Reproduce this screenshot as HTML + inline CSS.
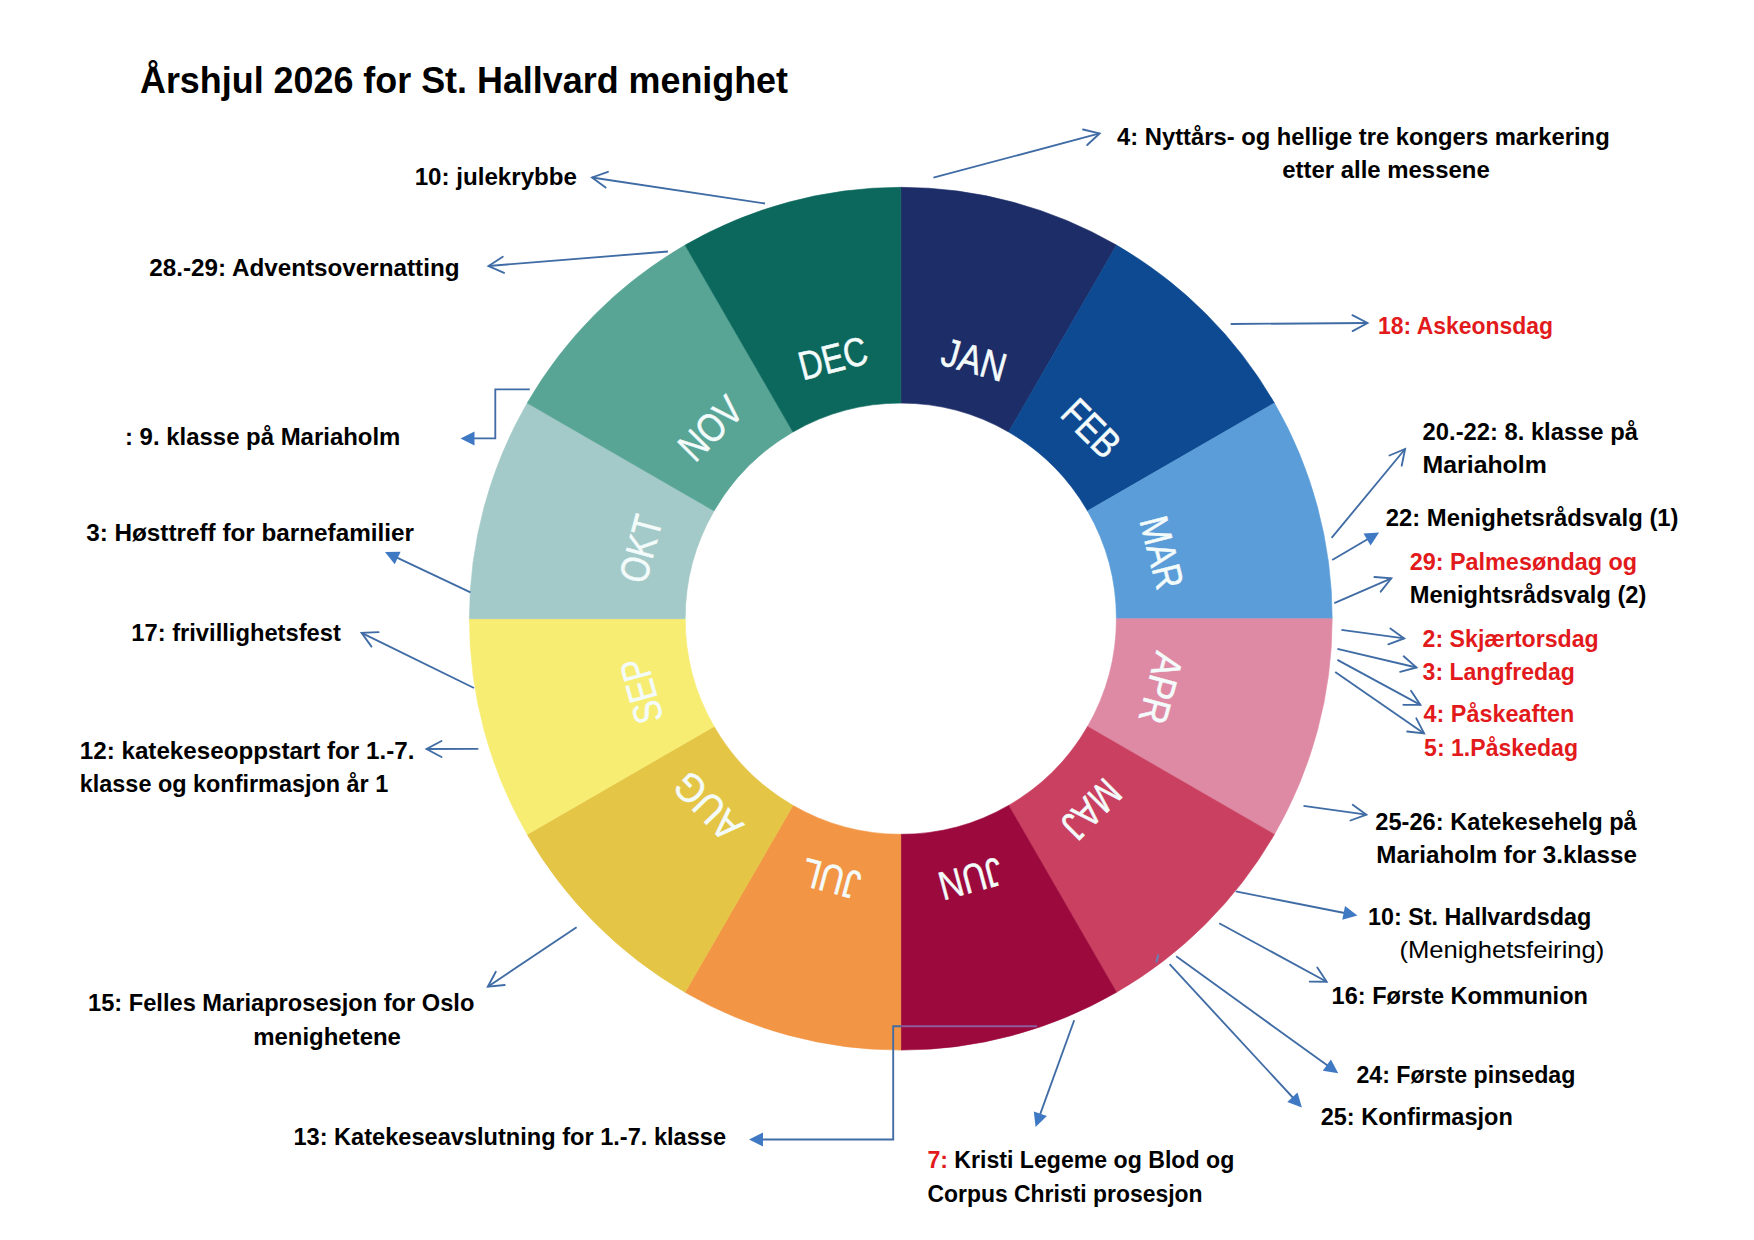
<!DOCTYPE html>
<html lang="no"><head><meta charset="utf-8"><title>Årshjul 2026 for St. Hallvard menighet</title>
<style>
html,body{margin:0;padding:0;background:#fff}
body{width:1754px;height:1240px;overflow:hidden}
svg{display:block}
text{font-family:"Liberation Sans",sans-serif;white-space:pre}
</style></head><body>
<svg width="1754" height="1240" viewBox="0 0 1754 1240">
<rect width="1754" height="1240" fill="#fff"/>
<path d="M900.80 187.30A431.4 431.4 0 0 1 1116.50 245.10L1008.60 431.98A215.6 215.6 0 0 0 900.80 403.10Z" fill="#1c2d68" stroke="#1c2d68" stroke-width="0.6"/>
<path d="M1116.50 245.10A431.4 431.4 0 0 1 1274.40 403.00L1087.52 510.90A215.6 215.6 0 0 0 1008.60 431.98Z" fill="#0d4a92" stroke="#0d4a92" stroke-width="0.6"/>
<path d="M1274.40 403.00A431.4 431.4 0 0 1 1332.20 618.70L1116.40 618.70A215.6 215.6 0 0 0 1087.52 510.90Z" fill="#5b9dd8" stroke="#5b9dd8" stroke-width="0.6"/>
<path d="M1332.20 618.70A431.4 431.4 0 0 1 1274.40 834.40L1087.52 726.50A215.6 215.6 0 0 0 1116.40 618.70Z" fill="#df8aa5" stroke="#df8aa5" stroke-width="0.6"/>
<path d="M1274.40 834.40A431.4 431.4 0 0 1 1116.50 992.30L1008.60 805.42A215.6 215.6 0 0 0 1087.52 726.50Z" fill="#c94060" stroke="#c94060" stroke-width="0.6"/>
<path d="M1116.50 992.30A431.4 431.4 0 0 1 900.80 1050.10L900.80 834.30A215.6 215.6 0 0 0 1008.60 805.42Z" fill="#9c093c" stroke="#9c093c" stroke-width="0.6"/>
<path d="M900.80 1050.10A431.4 431.4 0 0 1 685.10 992.30L793.00 805.42A215.6 215.6 0 0 0 900.80 834.30Z" fill="#f29544" stroke="#f29544" stroke-width="0.6"/>
<path d="M685.10 992.30A431.4 431.4 0 0 1 527.20 834.40L714.08 726.50A215.6 215.6 0 0 0 793.00 805.42Z" fill="#e5c546" stroke="#e5c546" stroke-width="0.6"/>
<path d="M527.20 834.40A431.4 431.4 0 0 1 469.40 618.70L685.20 618.70A215.6 215.6 0 0 0 714.08 726.50Z" fill="#f7ed72" stroke="#f7ed72" stroke-width="0.6"/>
<path d="M469.40 618.70A431.4 431.4 0 0 1 527.20 403.00L714.08 510.90A215.6 215.6 0 0 0 685.20 618.70Z" fill="#a3cac8" stroke="#a3cac8" stroke-width="0.6"/>
<path d="M527.20 403.00A431.4 431.4 0 0 1 685.10 245.10L793.00 431.98A215.6 215.6 0 0 0 714.08 510.90Z" fill="#58a596" stroke="#58a596" stroke-width="0.6"/>
<path d="M685.10 245.10A431.4 431.4 0 0 1 900.80 187.30L900.80 403.10A215.6 215.6 0 0 0 793.00 431.98Z" fill="#0c685d" stroke="#0c685d" stroke-width="0.6"/>
<text transform="translate(900.8 618.7) rotate(15.8) translate(0 -255.3) scale(0.855 1)" text-anchor="middle" font-size="40.2" fill="#f4fbfb" stroke="#f4fbfb" stroke-width="0.5" font-weight="400">JAN</text>
<text transform="translate(900.8 618.7) rotate(45) translate(0 -255.3) scale(0.82 1)" text-anchor="middle" font-size="40.2" fill="#f4fbfb" stroke="#f4fbfb" stroke-width="0.5" font-weight="400">FEB</text>
<text transform="translate(900.8 618.7) rotate(75.8) translate(0 -255.3) scale(0.82 1)" text-anchor="middle" font-size="40.2" fill="#f4fbfb" stroke="#f4fbfb" stroke-width="0.5" font-weight="400">MAR</text>
<text transform="translate(900.8 618.7) rotate(105) translate(0 -255.3) scale(0.87 1)" text-anchor="middle" font-size="40.2" fill="#f4fbfb" stroke="#f4fbfb" stroke-width="0.5" font-weight="400">APR</text>
<text transform="translate(900.8 618.7) rotate(135) translate(0 -255.3) scale(0.82 1)" text-anchor="middle" font-size="40.2" fill="#f4fbfb" stroke="#f4fbfb" stroke-width="0.5" font-weight="400">MAJ</text>
<text transform="translate(900.8 618.7) rotate(165) translate(0 -255.3) scale(0.82 1)" text-anchor="middle" font-size="40.2" fill="#f4fbfb" stroke="#f4fbfb" stroke-width="0.5" font-weight="400">JUN</text>
<text transform="translate(900.8 618.7) rotate(195) translate(0 -255.3) scale(0.82 1)" text-anchor="middle" font-size="40.2" fill="#f4fbfb" stroke="#f4fbfb" stroke-width="0.5" font-weight="400">JUL</text>
<text transform="translate(900.8 618.7) rotate(225.8) translate(0 -255.3) scale(0.9 1)" text-anchor="middle" font-size="40.2" fill="#f4fbfb" stroke="#f4fbfb" stroke-width="0.5" font-weight="400">AUG</text>
<text transform="translate(900.8 618.7) rotate(254.4) translate(0 -255.3) scale(0.82 1)" text-anchor="middle" font-size="40.2" fill="#f4fbfb" stroke="#f4fbfb" stroke-width="0.5" font-weight="400">SEP</text>
<text transform="translate(900.8 618.7) rotate(285) translate(0 -255.3) scale(0.82 1)" text-anchor="middle" font-size="40.2" fill="#f4fbfb" stroke="#f4fbfb" stroke-width="0.5" font-weight="400">OKT</text>
<text transform="translate(900.8 618.7) rotate(315) translate(0 -255.3) scale(0.82 1)" text-anchor="middle" font-size="40.2" fill="#f4fbfb" stroke="#f4fbfb" stroke-width="0.5" font-weight="400">NOV</text>
<text transform="translate(900.8 618.7) rotate(345.4) translate(0 -255.3) scale(0.82 1)" text-anchor="middle" font-size="40.2" fill="#f4fbfb" stroke="#f4fbfb" stroke-width="0.5" font-weight="400">DEC</text>
<text x="140.00" y="93.00" font-size="37" font-weight="700" fill="#000" textLength="648.03" lengthAdjust="spacingAndGlyphs">Årshjul 2026 for St. Hallvard menighet</text>
<text x="414.70" y="185.00" font-size="24" font-weight="700" fill="#000" textLength="162.31" lengthAdjust="spacingAndGlyphs">10: julekrybbe</text>
<text x="149.30" y="275.50" font-size="24" font-weight="700" fill="#000" textLength="310.19" lengthAdjust="spacingAndGlyphs">28.-29: Adventsovernatting</text>
<text x="125.00" y="445.00" font-size="24" font-weight="700" fill="#000" textLength="275.40" lengthAdjust="spacingAndGlyphs">: 9. klasse på Mariaholm</text>
<text x="86.20" y="541.00" font-size="24" font-weight="700" fill="#000" textLength="327.75" lengthAdjust="spacingAndGlyphs">3: Høsttreff for barnefamilier</text>
<text x="131.30" y="641.40" font-size="24" font-weight="700" fill="#000" textLength="209.53" lengthAdjust="spacingAndGlyphs">17: frivillighetsfest</text>
<text x="79.80" y="759.00" font-size="24" font-weight="700" fill="#000" textLength="334.58" lengthAdjust="spacingAndGlyphs">12: katekeseoppstart for 1.-7.</text>
<text x="79.80" y="792.00" font-size="24" font-weight="700" fill="#000" textLength="308.45" lengthAdjust="spacingAndGlyphs">klasse og konfirmasjon år 1</text>
<text x="88.00" y="1011.30" font-size="24" font-weight="700" fill="#000" textLength="386.37" lengthAdjust="spacingAndGlyphs">15: Felles Mariaprosesjon for Oslo</text>
<text x="253.20" y="1044.80" font-size="24" font-weight="700" fill="#000" textLength="147.76" lengthAdjust="spacingAndGlyphs">menighetene</text>
<text x="293.40" y="1145.00" font-size="24" font-weight="700" fill="#000" textLength="432.65" lengthAdjust="spacingAndGlyphs">13: Katekeseavslutning for 1.-7. klasse</text>
<text x="927.40" y="1201.60" font-size="24" font-weight="700" fill="#000" textLength="275.24" lengthAdjust="spacingAndGlyphs">Corpus Christi prosesjon</text>
<text x="1117.10" y="144.70" font-size="24" font-weight="700" fill="#000" textLength="492.56" lengthAdjust="spacingAndGlyphs">4: Nyttårs- og hellige tre kongers markering</text>
<text x="1282.20" y="177.50" font-size="24" font-weight="700" fill="#000" textLength="207.55" lengthAdjust="spacingAndGlyphs">etter alle messene</text>
<text x="1378.00" y="334.00" font-size="24" font-weight="700" fill="#e21a1c" textLength="175.04" lengthAdjust="spacingAndGlyphs">18: Askeonsdag</text>
<text x="1422.60" y="439.80" font-size="24" font-weight="700" fill="#000" textLength="215.32" lengthAdjust="spacingAndGlyphs">20.-22: 8. klasse på</text>
<text x="1422.60" y="472.60" font-size="24" font-weight="700" fill="#000" textLength="124.13" lengthAdjust="spacingAndGlyphs">Mariaholm</text>
<text x="1385.80" y="525.60" font-size="24" font-weight="700" fill="#000" textLength="292.74" lengthAdjust="spacingAndGlyphs">22: Menighetsrådsvalg (1)</text>
<text x="1409.70" y="570.10" font-size="24" font-weight="700" fill="#e21a1c" textLength="227.40" lengthAdjust="spacingAndGlyphs">29: Palmesøndag og</text>
<text x="1409.70" y="602.90" font-size="24" font-weight="700" fill="#000" textLength="236.65" lengthAdjust="spacingAndGlyphs">Menightsrådsvalg (2)</text>
<text x="1422.60" y="646.70" font-size="24" font-weight="700" fill="#e21a1c" textLength="176.16" lengthAdjust="spacingAndGlyphs">2: Skjærtorsdag</text>
<text x="1422.60" y="680.40" font-size="24" font-weight="700" fill="#e21a1c" textLength="152.35" lengthAdjust="spacingAndGlyphs">3: Langfredag</text>
<text x="1423.50" y="722.40" font-size="24" font-weight="700" fill="#e21a1c" textLength="150.75" lengthAdjust="spacingAndGlyphs">4: Påskeaften</text>
<text x="1424.10" y="756.10" font-size="24" font-weight="700" fill="#e21a1c" textLength="153.91" lengthAdjust="spacingAndGlyphs">5: 1.Påskedag</text>
<text x="1375.30" y="830.30" font-size="24" font-weight="700" fill="#000" textLength="261.42" lengthAdjust="spacingAndGlyphs">25-26: Katekesehelg på</text>
<text x="1376.30" y="862.70" font-size="24" font-weight="700" fill="#000" textLength="260.56" lengthAdjust="spacingAndGlyphs">Mariaholm for 3.klasse</text>
<text x="1368.00" y="924.80" font-size="24" font-weight="700" fill="#000" textLength="223.18" lengthAdjust="spacingAndGlyphs">10: St. Hallvardsdag</text>
<text x="1399.40" y="957.90" font-size="24" font-weight="400" fill="#000" textLength="204.97" lengthAdjust="spacingAndGlyphs">(Menighetsfeiring)</text>
<text x="1331.60" y="1003.90" font-size="24" font-weight="700" fill="#000" textLength="256.30" lengthAdjust="spacingAndGlyphs">16: Første Kommunion</text>
<text x="1356.40" y="1082.60" font-size="24" font-weight="700" fill="#000" textLength="218.95" lengthAdjust="spacingAndGlyphs">24: Første pinsedag</text>
<text x="1320.70" y="1124.60" font-size="24" font-weight="700" fill="#000" textLength="192.06" lengthAdjust="spacingAndGlyphs">25: Konfirmasjon</text>
<text x="927.40" y="1168.40" font-size="24" font-weight="700" fill="#000" textLength="306.88" lengthAdjust="spacingAndGlyphs"><tspan fill="#e21a1c">7:</tspan><tspan fill="#000"> Kristi Legeme og Blod og</tspan></text>
<line x1="933.4" y1="177.7" x2="1099.6" y2="133.4" stroke="#406ca5" stroke-width="1.85"/>
<polyline points="1087.2,145.0 1099.6,133.4 1083.0,129.5" fill="none" stroke="#406ca5" stroke-width="1.85" stroke-linecap="round" stroke-linejoin="miter"/>
<line x1="1230.7" y1="324" x2="1367.5" y2="323.0" stroke="#406ca5" stroke-width="1.85"/>
<polyline points="1352.6,331.1 1367.5,323.0 1352.4,315.1" fill="none" stroke="#406ca5" stroke-width="1.85" stroke-linecap="round" stroke-linejoin="miter"/>
<line x1="1331.6" y1="537.9" x2="1405.1" y2="449.0" stroke="#406ca5" stroke-width="1.85"/>
<polyline points="1401.7,465.7 1405.1,449.0 1389.4,455.5" fill="none" stroke="#406ca5" stroke-width="1.85" stroke-linecap="round" stroke-linejoin="miter"/>
<line x1="1332.2" y1="560" x2="1372.2" y2="536.5" stroke="#406ca5" stroke-width="1.85"/>
<polygon points="1370.6,545.5 1379.1,532.4 1363.5,533.5" fill="#4079c3"/>
<line x1="1334.3" y1="603.2" x2="1391.3" y2="578.4" stroke="#406ca5" stroke-width="1.85"/>
<polyline points="1380.7,591.7 1391.3,578.4 1374.4,577.0" fill="none" stroke="#406ca5" stroke-width="1.85" stroke-linecap="round" stroke-linejoin="miter"/>
<line x1="1341.4" y1="629.8" x2="1404.2" y2="638.4" stroke="#406ca5" stroke-width="1.85"/>
<polyline points="1388.3,644.3 1404.2,638.4 1390.4,628.4" fill="none" stroke="#406ca5" stroke-width="1.85" stroke-linecap="round" stroke-linejoin="miter"/>
<line x1="1337.4" y1="648.8" x2="1416.5" y2="667.5" stroke="#406ca5" stroke-width="1.85"/>
<polyline points="1400.1,671.8 1416.5,667.5 1403.7,656.3" fill="none" stroke="#406ca5" stroke-width="1.85" stroke-linecap="round" stroke-linejoin="miter"/>
<line x1="1337.4" y1="659.9" x2="1420.4" y2="704.9" stroke="#406ca5" stroke-width="1.85"/>
<polyline points="1403.4,704.8 1420.4,704.9 1411.0,690.7" fill="none" stroke="#406ca5" stroke-width="1.85" stroke-linecap="round" stroke-linejoin="miter"/>
<line x1="1335.2" y1="672.1" x2="1424.1" y2="733.4" stroke="#406ca5" stroke-width="1.85"/>
<polyline points="1407.2,731.5 1424.1,733.4 1416.3,718.3" fill="none" stroke="#406ca5" stroke-width="1.85" stroke-linecap="round" stroke-linejoin="miter"/>
<line x1="1303.5" y1="805.8" x2="1366.4" y2="814.7" stroke="#406ca5" stroke-width="1.85"/>
<polyline points="1350.4,820.5 1366.4,814.7 1352.7,804.7" fill="none" stroke="#406ca5" stroke-width="1.85" stroke-linecap="round" stroke-linejoin="miter"/>
<line x1="1235.7" y1="891.4" x2="1349.6" y2="914.0" stroke="#406ca5" stroke-width="1.85"/>
<polygon points="1342.3,919.7 1357.4,915.6 1345.0,906.0" fill="#4079c3"/>
<line x1="1219.2" y1="923.2" x2="1326.7" y2="981.7" stroke="#406ca5" stroke-width="1.85"/>
<polyline points="1309.7,981.6 1326.7,981.7 1317.3,967.5" fill="none" stroke="#406ca5" stroke-width="1.85" stroke-linecap="round" stroke-linejoin="miter"/>
<line x1="1176.2" y1="956.3" x2="1331.7" y2="1068.6" stroke="#406ca5" stroke-width="1.85"/>
<polygon points="1322.8,1070.8 1338.2,1073.3 1330.9,1059.4" fill="#4079c3"/>
<line x1="1169.6" y1="964.2" x2="1296.5" y2="1101.5" stroke="#406ca5" stroke-width="1.85"/>
<polygon points="1287.3,1101.9 1301.9,1107.4 1297.5,1092.4" fill="#4079c3"/>
<line x1="1074.2" y1="1020.2" x2="1038.3" y2="1119.4" stroke="#406ca5" stroke-width="1.85"/>
<polygon points="1033.8,1111.4 1035.6,1126.9 1046.9,1116.1" fill="#4079c3"/>
<line x1="576.6" y1="927.3" x2="487.8" y2="986.7" stroke="#406ca5" stroke-width="1.85"/>
<polyline points="495.8,971.7 487.8,986.7 504.7,985.0" fill="none" stroke="#406ca5" stroke-width="1.85" stroke-linecap="round" stroke-linejoin="miter"/>
<line x1="478.3" y1="748.9" x2="426.5" y2="749.0" stroke="#406ca5" stroke-width="1.85"/>
<polyline points="441.5,741.0 426.5,749.0 441.5,757.0" fill="none" stroke="#406ca5" stroke-width="1.85" stroke-linecap="round" stroke-linejoin="miter"/>
<line x1="474" y1="688" x2="361.6" y2="632.8" stroke="#406ca5" stroke-width="1.85"/>
<polyline points="378.6,632.2 361.6,632.8 371.5,646.6" fill="none" stroke="#406ca5" stroke-width="1.85" stroke-linecap="round" stroke-linejoin="miter"/>
<line x1="470.5" y1="592.4" x2="392.2" y2="555.4" stroke="#406ca5" stroke-width="1.85"/>
<polygon points="400.6,551.7 385.0,552.0 394.7,564.3" fill="#4079c3"/>
<line x1="765" y1="203.5" x2="592.0" y2="177.5" stroke="#406ca5" stroke-width="1.85"/>
<polyline points="608.0,171.8 592.0,177.5 605.6,187.6" fill="none" stroke="#406ca5" stroke-width="1.85" stroke-linecap="round" stroke-linejoin="miter"/>
<line x1="668" y1="251.5" x2="488.5" y2="266.0" stroke="#406ca5" stroke-width="1.85"/>
<polyline points="502.8,256.8 488.5,266.0 504.1,272.8" fill="none" stroke="#406ca5" stroke-width="1.85" stroke-linecap="round" stroke-linejoin="miter"/>
<polyline points="529.8,389.4 495.3,389.4 495.3,438.4 470,438.4" fill="none" stroke="#406ca5" stroke-width="1.85"/>
<polygon points="474.5,431.4 460.5,438.4 474.5,445.4" fill="#4079c3"/>
<line x1="901.3" y1="1026.2" x2="1037" y2="1026.2" stroke="#8c5c9c" stroke-width="1.85"/>
<polyline points="901.3,1026.2 893.2,1026.2 893.2,1139.5 760,1139.5" fill="none" stroke="#406ca5" stroke-width="1.85"/>
<polygon points="763.0,1132.5 749.0,1139.5 763.0,1146.5" fill="#4079c3"/>
<line x1="1156.3" y1="962.5" x2="1158.3" y2="954.5" stroke="#6e7bb0" stroke-width="2.2"/>
</svg>
</body></html>
